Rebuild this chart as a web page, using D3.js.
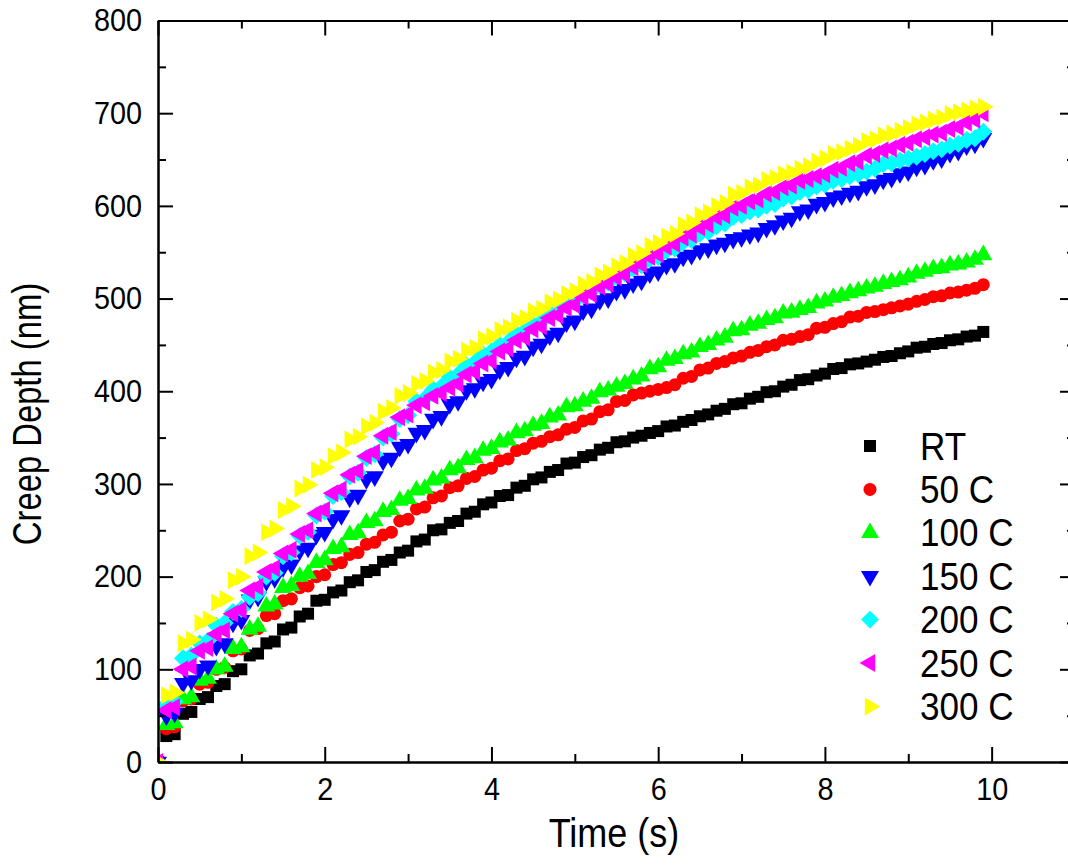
<!DOCTYPE html>
<html>
<head>
<meta charset="utf-8">
<script src="https://cdn.jsdelivr.net/npm/d3@7/dist/d3.min.js"></script>
<style>
  body { margin: 0; background: #fff; }
  text { font-family: "Liberation Sans", Arial, sans-serif; fill: #000; }
</style>
</head>
<body>
<svg id="chart" width="1068" height="865"></svg>
<script>
// creep depth (nm) vs time (s); the logger repeats most readings twice
const time = [0, 0.1, 0.2, 0.3, 0.4, 0.5, 0.6, 0.7, 0.8, 0.9, 1.0, 1.1, 1.2, 1.3, 1.4, 1.5, 1.6, 1.7, 1.8, 1.9,
    2.0, 2.1, 2.2, 2.3, 2.4, 2.5, 2.6, 2.7, 2.8, 2.9, 3.0, 3.1, 3.2, 3.3, 3.4, 3.5, 3.6, 3.7, 3.8, 3.9,
    4.0, 4.1, 4.2, 4.3, 4.4, 4.5, 4.6, 4.7, 4.8, 4.9, 5.0, 5.1, 5.2, 5.3, 5.4, 5.5, 5.6, 5.7, 5.8, 5.9,
    6.0, 6.1, 6.2, 6.3, 6.4, 6.5, 6.6, 6.7, 6.8, 6.9, 7.0, 7.1, 7.2, 7.3, 7.4, 7.5, 7.6, 7.7, 7.8, 7.9,
    8.0, 8.1, 8.2, 8.3, 8.4, 8.5, 8.6, 8.7, 8.8, 8.9, 9.0, 9.1, 9.2, 9.3, 9.4, 9.5, 9.6, 9.7, 9.8, 9.9];
const depthRT = [0, 28, 30, 52, 54, 68, 70, 82, 84, 98, 100, 115, 117, 128, 130, 143, 145, 157, 160, 174,
    175, 183, 185, 194, 196, 205, 207, 216, 218, 226, 228, 238, 240, 250, 251, 258, 260, 268, 270, 278,
    280, 287, 288, 296, 298, 305, 307, 313, 315, 322, 323, 329, 331, 337, 339, 345, 346, 350, 352, 355,
    357, 362, 363, 367, 369, 373, 375, 379, 381, 386, 387, 392, 394, 399, 400, 405, 407, 412, 413, 417,
    419, 424, 425, 429, 430, 432, 434, 437, 438, 441, 443, 447, 448, 451, 452, 455, 456, 459, 460, 464];
const depth50 = [0, 36, 38, 66, 68, 84, 86, 100, 102, 120, 122, 142, 144, 158, 160, 174, 176, 188, 190, 200,
    202, 213, 215, 224, 226, 235, 237, 245, 248, 260, 262, 273, 275, 285, 287, 296, 298, 306, 308, 315,
    317, 325, 327, 336, 338, 344, 346, 351, 353, 359, 361, 368, 370, 378, 380, 389, 390, 396, 398, 400,
    402, 404, 407, 414, 416, 423, 425, 430, 432, 436, 438, 442, 444, 448, 450, 455, 456, 459, 461, 468,
    469, 473, 475, 480, 481, 485, 486, 488, 490, 492, 494, 497, 499, 502, 503, 506, 507, 509, 511, 515];
const depth100 = [0, 40, 42, 68, 70, 88, 90, 100, 103, 122, 124, 143, 146, 168, 170, 188, 190, 200, 203, 215,
    218, 230, 232, 245, 247, 258, 260, 270, 272, 282, 284, 293, 295, 304, 306, 315, 317, 326, 328, 336,
    338, 345, 347, 355, 357, 363, 365, 372, 374, 383, 384, 389, 392, 399, 401, 405, 408, 413, 416, 424,
    426, 433, 435, 440, 442, 448, 450, 455, 458, 465, 466, 471, 473, 477, 479, 484, 485, 488, 490, 495,
    497, 501, 503, 506, 508, 511, 513, 516, 518, 520, 523, 527, 529, 532, 533, 536, 537, 539, 542, 547];
const depth150 = [0, 50, 53, 85, 88, 100, 104, 125, 128, 150, 153, 175, 178, 195, 198, 210, 213, 228, 231, 245,
    248, 262, 266, 285, 288, 305, 308, 325, 328, 340, 343, 355, 358, 370, 373, 386, 389, 401, 403, 410,
    413, 423, 426, 436, 438, 448, 451, 460, 463, 474, 476, 487, 489, 498, 500, 508, 510, 516, 519, 527,
    529, 536, 538, 545, 547, 552, 554, 558, 560, 564, 566, 569, 571, 576, 579, 584, 587, 594, 596, 602,
    604, 609, 611, 614, 616, 621, 623, 628, 630, 635, 637, 642, 644, 649, 651, 657, 659, 665, 667, 673];
const depth200 = [0, 62, 65, 112, 115, 128, 131, 147, 150, 162, 165, 178, 182, 200, 204, 222, 226, 244, 248, 266,
    270, 287, 291, 308, 312, 328, 332, 350, 354, 370, 374, 389, 392, 402, 405, 415, 418, 428, 431, 440,
    443, 450, 453, 462, 465, 472, 475, 484, 487, 495, 497, 505, 508, 515, 517, 524, 527, 533, 536, 543,
    545, 552, 554, 561, 563, 570, 572, 578, 581, 588, 590, 594, 596, 600, 602, 608, 610, 615, 617, 621,
    623, 627, 629, 632, 634, 637, 640, 645, 646, 649, 651, 653, 656, 659, 661, 665, 667, 671, 673, 680];
const depth250 = [0, 56, 59, 100, 103, 120, 123, 138, 142, 160, 164, 185, 189, 205, 209, 225, 229, 246, 250, 268,
    272, 290, 294, 310, 314, 330, 334, 352, 356, 372, 375, 385, 388, 395, 398, 404, 408, 418, 421, 430,
    433, 443, 446, 455, 458, 467, 470, 479, 482, 490, 493, 502, 505, 513, 516, 523, 526, 534, 537, 545,
    548, 556, 559, 566, 569, 577, 580, 588, 590, 598, 600, 605, 607, 613, 615, 620, 622, 627, 629, 632,
    634, 639, 641, 646, 648, 654, 656, 660, 662, 666, 668, 672, 674, 677, 679, 683, 685, 690, 693, 700];
const depth300 = [0, 72, 75, 128, 132, 150, 154, 172, 176, 196, 200, 222, 226, 248, 252, 272, 276, 295, 299, 315,
    318, 330, 334, 348, 351, 362, 366, 378, 382, 395, 398, 408, 411, 420, 423, 432, 435, 444, 447, 456,
    459, 466, 469, 476, 479, 486, 489, 496, 499, 505, 508, 515, 518, 525, 528, 535, 538, 546, 549, 557,
    560, 567, 570, 579, 582, 590, 593, 600, 603, 612, 614, 620, 622, 628, 630, 634, 636, 640, 643, 648,
    651, 656, 658, 662, 665, 670, 672, 676, 678, 681, 684, 688, 690, 693, 695, 699, 701, 703, 705, 707];

const seriesNames = ["RT", "50 C", "100 C", "150 C", "200 C", "250 C", "300 C"];
const seriesValues = [depthRT, depth50, depth100, depth150, depth200, depth250, depth300];
const seriesColors = ["#000000", "#ff0000", "#00ff00", "#0000ff", "#00ffff", "#ff00ff", "#ffff00"];

const xMajor = [0, 2, 4, 6, 8, 10];
const xMinor = [1, 3, 5, 7, 9, 11];
const yMajor = [0, 100, 200, 300, 400, 500, 600, 700, 800];
const yMinor = [50, 150, 250, 350, 450, 550, 650, 750];

// symbol per series: [type, size, rotation]
const symbols = [
    [d3.symbolSquare, 144, 0],
    [d3.symbolCircle, 133, 0],
    [d3.symbolTriangle, 140, 0],
    [d3.symbolTriangle, 140, 180],
    [d3.symbolSquare, 160, 45],
    [d3.symbolTriangle, 140, -90],
    [d3.symbolTriangle, 140, 90]
];

const svg = d3.select("#chart");
const plotLeft = 158, plotTop = 20.5, plotBottom = 762, plotRight = 1075;
const squeeze = 0.9; // the original text is a bit narrow

let x = d3.scaleLinear().domain([0, 11]).range([plotLeft, plotRight]);
let y = d3.scaleLinear().domain([0, 800]).range([plotBottom, plotTop]);

svg.append("clipPath").attr("id", "plotclip")
    .append("rect")
    .attr("x", plotLeft).attr("y", plotTop)
    .attr("width", plotRight - plotLeft).attr("height", plotBottom - plotTop);

// points
const plot = svg.append("g").attr("clip-path", "url(#plotclip)");
seriesValues.forEach((vals, i) => {
    const [type, size, rot] = symbols[i];
    const path = d3.symbol().type(type).size(size)();
    plot.append("g")
        .selectAll("path")
        .data(time.map((t, k) => [t, vals[k]]))
        .join("path")
        .attr("d", path)
        .attr("fill", seriesColors[i])
        .attr("transform", d => `translate(${x(d[0])},${y(d[1])}) rotate(${rot})`);
});

// axes, ticks pointing inward on all four sides
function styleAxis(g) {
    g.selectAll(".domain").attr("stroke-width", 2).attr("stroke", "#000");
    g.selectAll(".tick line").attr("stroke-width", 2).attr("stroke", "#000");
}

const xb = svg.append("g").attr("transform", `translate(0,${plotBottom})`)
    .call(d3.axisBottom(x).tickValues(xMajor).tickSizeInner(-15).tickSizeOuter(0).tickPadding(15).tickFormat(d3.format("d")));
xb.call(styleAxis);
xb.selectAll("text").attr("font-size", 32).attr("transform", `scale(${squeeze},1)`);

svg.append("g").attr("transform", `translate(0,${plotBottom})`)
    .call(d3.axisBottom(x).tickValues(xMinor).tickSizeInner(-8).tickSizeOuter(0).tickFormat(""))
    .call(styleAxis);

const yl = svg.append("g").attr("transform", `translate(${plotLeft},0)`)
    .call(d3.axisLeft(y).tickValues(yMajor).tickSizeInner(-15).tickSizeOuter(0).tickPadding(16).tickFormat(d3.format("d")));
yl.call(styleAxis);
yl.selectAll("text").attr("font-size", 32)
    .attr("x", -16 / squeeze)
    .attr("transform", `scale(${squeeze},1)`);

svg.append("g").attr("transform", `translate(${plotLeft},0)`)
    .call(d3.axisLeft(y).tickValues(yMinor).tickSizeInner(-8).tickSizeOuter(0).tickFormat(""))
    .call(styleAxis);

// top and right frame
[[xMajor, 15], [xMinor, 8]].forEach(([vals, len]) => {
    svg.append("g").attr("transform", `translate(0,${plotTop})`)
        .call(d3.axisTop(x).tickValues(vals).tickSizeInner(-len).tickSizeOuter(0).tickFormat(""))
        .call(styleAxis);
});
[[yMajor, 15], [yMinor, 8]].forEach(([vals, len]) => {
    svg.append("g").attr("transform", `translate(${plotRight},0)`)
        .call(d3.axisRight(y).tickValues(vals).tickSizeInner(-len).tickSizeOuter(0).tickFormat(""))
        .call(styleAxis);
});

// axis titles
svg.append("text")
    .attr("transform", `translate(614,847) scale(0.9,1)`)
    .attr("text-anchor", "middle")
    .attr("font-size", 40)
    .text("Time (s)");

svg.append("text")
    .attr("transform", `translate(41,414) rotate(-90) scale(0.82,1)`)
    .attr("text-anchor", "middle")
    .attr("font-size", 40)
    .text("Creep Depth (nm)");

// legend
const legend = svg.append("g");
seriesNames.forEach((name, i) => {
    const [type, size, rot] = symbols[i];
    const cy = 446 + i * 43.4;
    legend.append("path")
        .attr("d", d3.symbol().type(type).size(size)())
        .attr("fill", seriesColors[i])
        .attr("transform", `translate(870,${cy}) rotate(${rot})`);
    legend.append("text")
        .attr("transform", `translate(920,${cy + 13.5}) scale(${squeeze},1)`)
        .attr("font-size", 39)
        .text(name);
});
</script>
</body>
</html>
